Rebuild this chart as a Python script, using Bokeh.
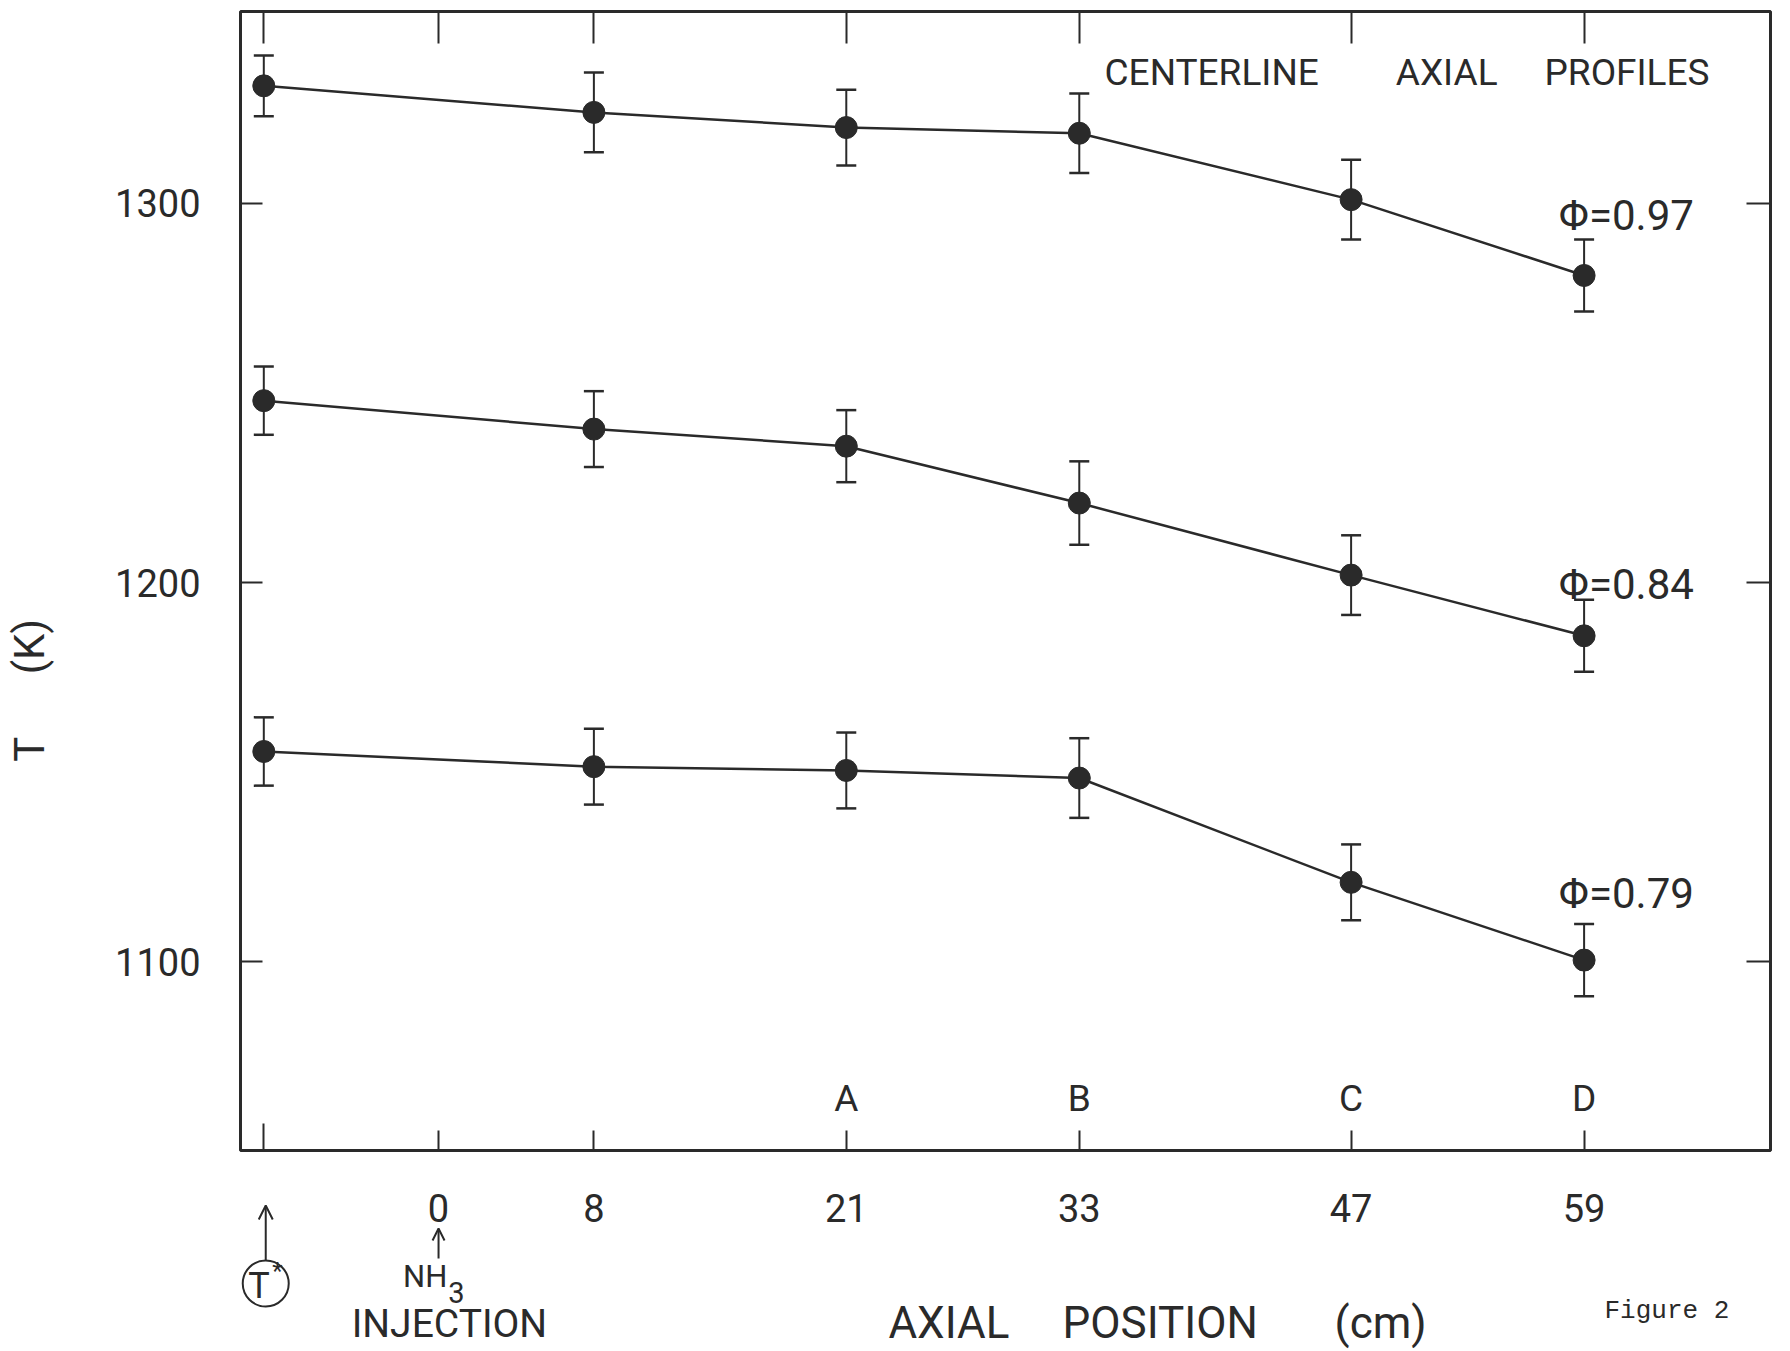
from bokeh.plotting import figure
from bokeh.layouts import column
from bokeh.models import (Range1d, LinearAxis, FixedTicker, ColumnDataSource, Whisker,
                          TeeHead, Label, Arrow, OpenHead, Grid)
from bokeh.core.properties import value
from bokeh.embed import file_html
from bokeh.resources import INLINE

# ---------------- data ----------------
# axial positions (cm); first entry is the upstream reference location T*
x_pos = [-9, 8, 21, 33, 47, 59]
x_tick_values = [0, 8, 21, 33, 47, 59]
x_tick_labels = ["0", "8", "21", "33", "47", "59"]
station_letters = ["A", "B", "C", "D"]
station_pos = [21, 33, 47, 59]
y_tick_values = [1100, 1200, 1300]

phi_labels = ["Φ=0.97", "Φ=0.84", "Φ=0.79"]
T_097 = [1331, 1324, 1320, 1318.5, 1301, 1281]
err_097 = [8, 10.5, 10, 10.5, 10.5, 9.5]
T_084 = [1248, 1240.5, 1236, 1221, 1202, 1186]
err_084 = [9, 10, 9.5, 11, 10.5, 9.5]
T_079 = [1155.5, 1151.5, 1150.5, 1148.5, 1121, 1100.5]
err_079 = [9, 10, 10, 10.5, 10, 9.5]

INK = "#2a2a2a"
FONT = "Roboto"
W = 1790
H_MAIN = 1161
H_BOT = 190
NB = "\u00a0"


def new_xrange():
    return Range1d(-10.2, 68.6)


p = figure(width=W, height=H_MAIN,
           x_range=new_xrange(), y_range=Range1d(1050.3, 1350.6),
           output_backend="svg", toolbar_location=None,
           x_axis_location=None, y_axis_location=None,
           min_border_left=240, min_border_right=20,
           min_border_top=11, min_border_bottom=11)
p.background_fill_color = "white"
p.border_fill_color = "white"
p.outline_line_color = INK
p.outline_line_width = 3
for r in list(p.center):
    if isinstance(r, Grid):
        r.visible = False

# ---------------- axes ----------------
hidden = dict(major_label_standoff=0, major_label_text_font_size="1px",
              major_label_text_color=None, axis_line_color=None,
              major_tick_out=0, minor_tick_out=0,
              major_tick_line_color=INK, major_tick_line_width=2)

bottom = LinearAxis(ticker=FixedTicker(ticks=x_tick_values, minor_ticks=[-9]),
                    major_tick_in=20, minor_tick_in=27,
                    minor_tick_line_color=INK, minor_tick_line_width=2, **hidden)
p.add_layout(bottom, "below")

top = LinearAxis(ticker=FixedTicker(ticks=[-9] + x_tick_values),
                 major_tick_in=32, minor_tick_in=0, **hidden)
p.add_layout(top, "above")

right = LinearAxis(ticker=FixedTicker(ticks=y_tick_values),
                   major_tick_in=24, minor_tick_in=0, **hidden)
p.add_layout(right, "right")

left = LinearAxis(ticker=FixedTicker(ticks=y_tick_values),
                  major_tick_in=22, major_tick_out=0,
                  minor_tick_in=0, minor_tick_out=0,
                  major_tick_line_color=INK, major_tick_line_width=2,
                  axis_line_color=None,
                  major_label_standoff=40,
                  major_label_text_font=FONT, major_label_text_font_size="38px",
                  major_label_text_color=INK,
                  axis_label="T" + NB * 6 + "(K)" + NB * 21,
                  axis_label_standoff=58,
                  axis_label_text_font=FONT, axis_label_text_font_size="42px",
                  axis_label_text_font_style="normal", axis_label_text_color=INK)
p.add_layout(left, "left")

# ---------------- series ----------------
series = [(T_097, err_097), (T_084, err_084), (T_079, err_079)]
for T, err in series:
    src = ColumnDataSource(dict(x=x_pos, y=T,
                                upper=[t + e for t, e in zip(T, err)],
                                lower=[t - e for t, e in zip(T, err)]))
    p.line("x", "y", source=src, line_width=2.5, line_color=INK)
    p.add_layout(Whisker(source=src, base="x", upper="upper", lower="lower",
                         line_color=INK, line_width=2,
                         upper_head=TeeHead(size=20, line_color=INK, line_width=2.5),
                         lower_head=TeeHead(size=20, line_color=INK, line_width=2.5)))
    p.scatter("x", "y", source=src, size=22, fill_color=INK, line_color=INK)

# phi labels near the right end of each curve
phi_y = [1296.8, 1199.4, 1118.1]
for lab, yy in zip(phi_labels, phi_y):
    p.add_layout(Label(x=57.7, y=yy, text=lab, text_font=FONT, text_font_size="42px",
                       text_color=INK, text_baseline="middle", text_align="left"))

# station letters inside the frame
for lab, xx in zip(station_letters, station_pos):
    p.add_layout(Label(x=xx, y=1064, text=lab, text_font=FONT, text_font_size="37px",
                       text_color=INK, text_baseline="middle", text_align="center"))

# title inside frame
for word, xx in zip(["CENTERLINE", "AXIAL", "PROFILES"], [34.3, 49.3, 56.96]):
    p.add_layout(Label(x=xx, y=1334.5, text=word, text_font=FONT, text_font_size="37px",
                       text_color=INK, text_baseline="middle", text_align="left"))

# ---------------- lower strip: x tick labels, markers, axis title ----------------
# its frame lines up with the main frame (same cm scale);
# vertical coordinate = page pixel row (top down)
pb = figure(width=W, height=H_BOT,
            x_range=new_xrange(),
            y_range=Range1d(H_MAIN + H_BOT, H_MAIN),
            output_backend="svg", toolbar_location=None,
            x_axis_location=None, y_axis_location=None,
            min_border_left=240, min_border_right=20,
            min_border_top=0, min_border_bottom=0)
pb.outline_line_color = None
pb.background_fill_color = "white"
pb.border_fill_color = "white"
for r in list(pb.center):
    if isinstance(r, Grid):
        r.visible = False

pb.text(x=x_tick_values, y=[1207] * len(x_tick_values), text=x_tick_labels,
        text_font=value(FONT), text_font_size=value("38px"), text_color=INK,
        text_align="center", text_baseline="middle")


def blabel(x, y, text, size, align="left", font=FONT):
    pb.add_layout(Label(x=x, y=y, text=text, text_font=font, text_font_size=size,
                        text_color=INK, text_baseline="middle", text_align=align))


# T* reference marker
pb.scatter(x=[-8.9], y=[1283], marker="circle", size=46, fill_color=None,
           line_color=INK, line_width=2)
blabel(-9.25, 1285, "T", "36px", align="center")
blabel(-8.3, 1270, "*", "24px", align="center")
pb.add_layout(Arrow(x_start=-8.9, y_start=1260, x_end=-8.9, y_end=1205,
                    line_color=INK, line_width=2,
                    end=OpenHead(size=14, line_color=INK, line_width=2)))

# NH3 injection marker
pb.add_layout(Arrow(x_start=0, y_start=1258, x_end=0, y_end=1228,
                    line_color=INK, line_width=2,
                    end=OpenHead(size=12, line_color=INK, line_width=2)))
blabel(0.45, 1276, "NH", "31px", align="right")
blabel(0.5, 1292, "3", "29px", align="left")
blabel(0.56, 1323, "INJECTION", "39px", align="center")

# x axis title
for word, xx in zip(["AXIAL", "POSITION", "(cm)"], [23.17, 32.14, 46.15]):
    blabel(xx, 1322, word, "44px")

blabel(60.05, 1310, "Figure 2", "26px", font="Liberation Mono")

layout = column(p, pb, spacing=0)
open("out.html", "w").write(file_html(layout, INLINE))
